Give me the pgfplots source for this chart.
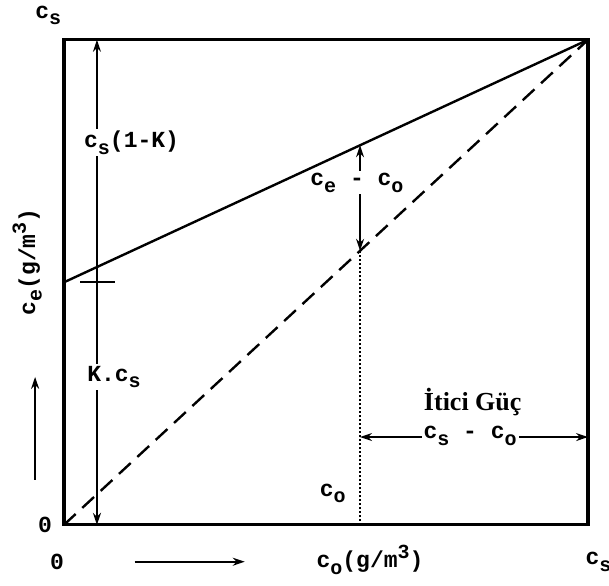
\documentclass[border=0pt]{standalone}
\usepackage{fontspec}
\usepackage{pgfplots}
\pgfplotsset{compat=1.18}
\usetikzlibrary{arrows.meta}
\newfontfamily\cour{Liberation Mono}
\newfontfamily\tms{Liberation Serif}
\newcommand\lo[1]{\raisebox{-0.55ex}{\fontsize{10}{12}\selectfont #1}}
\newcommand\hi[1]{\raisebox{0.75ex}{\fontsize{10}{12}\selectfont #1}}

\begin{document}
\begin{tikzpicture}[>={Stealth[length=6pt,width=4pt]}]
\begin{axis}[
  scale only axis, width=262pt, height=242.5pt,
  xmin=0, xmax=1, ymin=0, ymax=1,
  axis line style={line width=1.6pt},
  xtick=\empty, ytick=\empty,
  clip=false,
  font=\cour\bfseries\fontsize{11.5}{13}\selectfont,
]
% c_e = K c_s + (1-K) c_o, K = 0.5
\addplot[black, line width=1.2pt] coordinates {(0,0.5) (1,1)};
% c_e = c_o
\addplot[black, line width=1.2pt, dash pattern=on 8pt off 4.5pt] coordinates {(0,0) (1,1)};
% c_o
\addplot[black, line width=1pt, densely dotted] coordinates {(0.565,0) (0.565,0.565)};

% bounding box corners
\coordinate (bbl) at (axis cs:-0.122,-0.124);
\coordinate (tr) at (axis cs:1.040,1.082);

% axis names
\node at (axis cs:-0.030,1.050) {c\lo{s}};
\node at (axis cs:-0.036,0) {0};
\node at (axis cs:-0.013,-0.076) {0};
\node at (axis cs:0.584,-0.072) {c\lo{o}(g/m\hi{3})};
\node at (axis cs:1.020,-0.076) {c\lo{s}};
\node[rotate=90] at (axis cs:-0.070,0.542) {c\lo{e}(g/m\hi{3})};
\draw[->, line width=0.9pt] (axis cs:-0.055,0.093) -- (axis cs:-0.055,0.305);
\draw[->, line width=0.9pt] (axis cs:0.135,-0.076) -- (axis cs:0.345,-0.076);

% left dimension arrows
\draw[->, line width=0.8pt] (axis cs:0.063,0.5) -- (axis cs:0.063,1);
\draw[->, line width=0.8pt] (axis cs:0.063,0.5) -- (axis cs:0.063,0);
\draw[line width=0.9pt] (axis cs:0.031,0.5) -- (axis cs:0.097,0.5);
\node[fill=white, inner sep=1pt, anchor=west] at (axis cs:0.034,0.788) {c\lo{s}(1-K)};
\node[fill=white, inner sep=1pt, anchor=west] at (axis cs:0.040,0.305) {K.c\lo{s}};

% c_e - c_o
\draw[<->, line width=0.8pt] (axis cs:0.565,0.565) -- (axis cs:0.565,0.7825);
\node[fill=white, inner sep=1pt] at (axis cs:0.559,0.705) {c\lo{e} - c\lo{o}};

% driving force
\draw[<->, line width=0.8pt] (axis cs:0.565,0.181) -- (axis cs:1,0.181);
\node[fill=white, inner sep=1pt] at (axis cs:0.775,0.184) {c\lo{s} - c\lo{o}};
\node[font=\tms\bfseries\fontsize{13}{15}\selectfont] at (axis cs:0.78,0.254) {İtici Güç};
\node at (axis cs:0.513,0.065) {c\lo{o}};
\end{axis}
\pgfresetboundingbox
\path[use as bounding box] (bbl) rectangle (tr);
\end{tikzpicture}
\end{document}
